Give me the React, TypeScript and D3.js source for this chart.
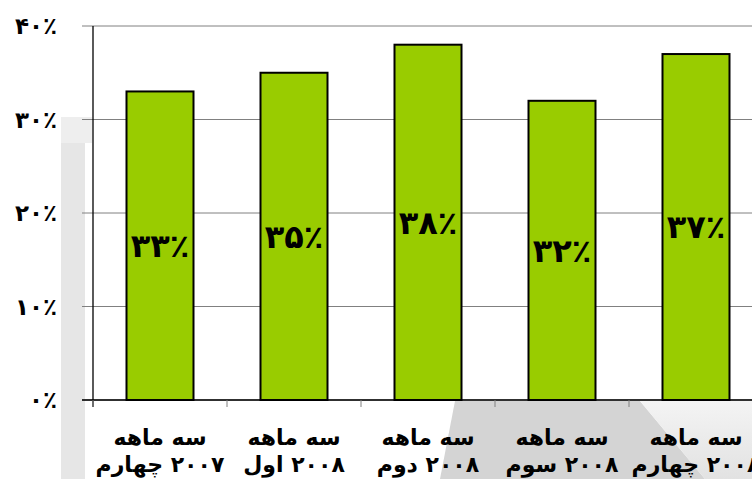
import React from "react";
import * as d3 from "d3";

const categoriesLine1 = ["سه ماهه", "سه ماهه", "سه ماهه", "سه ماهه", "سه ماهه"];
const categoriesLine2Word = ["چهارم", "اول", "دوم", "سوم", "چهارم"];
const categoriesLine2Year = ["۲۰۰۷", "۲۰۰۸", "۲۰۰۸", "۲۰۰۸", "۲۰۰۸"];
const values = [33, 35, 38, 32, 37];
const valueLabels = ["۳۳٪", "۳۵٪", "۳۸٪", "۳۲٪", "۳۷٪"];
const yTicks = [0, 10, 20, 30, 40];
const yTickLabels = ["۰٪", "۱۰٪", "۲۰٪", "۳۰٪", "۴۰٪"];

const W = 752;
const H = 479;
const FONT = "'DejaVu Sans', sans-serif";
const CAT_SIZE = 22;

function measure(text: string, size: number): number {
  if (typeof document === "undefined") return text.length * size * 0.55;
  const c = document.createElement("canvas").getContext("2d");
  if (!c) return text.length * size * 0.55;
  c.font = `bold ${size}px 'DejaVu Sans'`;
  return c.measureText(text).width;
}

export default function App() {
  const left = 93;
  const top = 26;
  const bottom = 400;
  const ids = values.map((_, i) => String(i));
  const x = d3.scaleBand<string>().domain(ids).range([left, left + 670]).paddingInner(0.5).paddingOuter(0.25);
  const y = d3.scaleLinear().domain([0, 40]).range([bottom, top]);
  const step = x.step();
  const gap = measure(" ", CAT_SIZE);

  return (
    <svg
      width={W}
      height={H}
      style={{ position: "fixed", left: 0, top: 0, background: "#fff" }}
      fontFamily={FONT}
    >
      <defs>
        <linearGradient id="lightg" gradientUnits="userSpaceOnUse" x1="0" y1="400" x2="0" y2="479">
          <stop offset="0" stopColor="#f4f4f4" />
          <stop offset="1" stopColor="#e2e2e2" />
        </linearGradient>
      </defs>
      {/* faint background shapes */}
      <rect x={61} y={117} width={24} height={H - 117} fill="#e6e6e6" />
      <rect x={61} y={117} width={31} height={26} fill="#eeeeee" />
      <polygon points="455,401 640,401 705,479 440,479" fill="#d4d4d4" />
      <polygon points="640,401 752,401 752,479 705,479" fill="url(#lightg)" />

      {/* gridlines */}
      {yTicks.map((t) => (
        <line key={t} x1={82} x2={W} y1={y(t)} y2={y(t)} stroke="#808080" strokeWidth={1} />
      ))}
      {/* y tick labels */}
      {yTicks.map((t, i) => (
        <text
          key={"yl" + t}
          x={57}
          y={y(t)}
          dy="0.35em"
          textAnchor="end"
          fontSize={23}
          fontWeight="bold"
          fill="#000"
        >
          {yTickLabels[i]}
        </text>
      ))}
      {/* bars */}
      {values.map((v, i) => (
        <rect
          key={"b" + i}
          x={x(ids[i])}
          y={y(v)}
          width={x.bandwidth()}
          height={y(0) - y(v)}
          fill="#99cc00"
          stroke="#000"
          strokeWidth={2}
        />
      ))}
      {/* y axis line */}
      <line x1={left} x2={left} y1={top} y2={bottom + 7} stroke="#000" strokeWidth={1.3} />
      {/* x axis line */}
      <line x1={82} x2={W} y1={bottom} y2={bottom} stroke="#000" strokeWidth={1.3} />
      {ids.map((id, i) => (
        <line
          key={"xt" + i}
          x1={left + step * i}
          x2={left + step * i}
          y1={bottom}
          y2={bottom + 7}
          stroke="#808080"
        />
      ))}
      {/* value labels */}
      {values.map((v, i) => (
        <text
          key={"v" + i}
          x={(x(ids[i]) as number) + x.bandwidth() / 2}
          y={(y(v) + y(0)) / 2}
          dy="0.35em"
          textAnchor="middle"
          fontSize={32}
          fontWeight="bold"
          fill="#000"
        >
          {valueLabels[i]}
        </text>
      ))}
      {/* category labels */}
      {ids.map((id, i) => {
        const cx = (x(id) as number) + x.bandwidth() / 2;
        const ww = measure(categoriesLine2Word[i], CAT_SIZE);
        const wy = measure(categoriesLine2Year[i], CAT_SIZE);
        const start = cx - (ww + gap + wy) / 2;
        return (
          <g key={"c" + i}>
            <text x={cx} y={445} textAnchor="middle" fontSize={CAT_SIZE} fontWeight="bold" fill="#000">
              {categoriesLine1[i]}
            </text>
            <text x={start + ww} y={472} textAnchor="end" fontSize={CAT_SIZE} fontWeight="bold" fill="#000">
              {categoriesLine2Word[i]}
            </text>
            <text x={start + ww + gap} y={472} textAnchor="start" fontSize={CAT_SIZE} fontWeight="bold" fill="#000">
              {categoriesLine2Year[i]}
            </text>
          </g>
        );
      })}
    </svg>
  );
}
